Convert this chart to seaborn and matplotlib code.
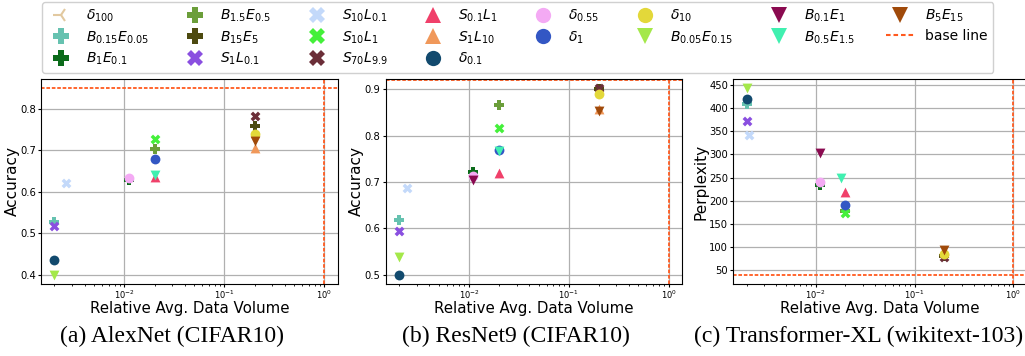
import numpy as np
import pandas as pd
import matplotlib
matplotlib.use("Agg")
import matplotlib.pyplot as plt
from matplotlib.lines import Line2D
from matplotlib.ticker import MultipleLocator
import seaborn as sns

nan = np.nan

methods = [r'$\delta_{100}$', r'$B_{0.15}E_{0.05}$', r'$B_{1}E_{0.1}$',
           r'$B_{1.5}E_{0.5}$', r'$B_{15}E_{5}$', r'$S_{1}L_{0.1}$',
           r'$S_{10}L_{0.1}$', r'$S_{10}L_{1}$', r'$S_{70}L_{9.9}$',
           r'$S_{0.1}L_{1}$', r'$S_{1}L_{10}$', r'$\delta_{0.1}$',
           r'$\delta_{0.55}$', r'$\delta_{1}$', r'$\delta_{10}$',
           r'$B_{0.05}E_{0.15}$', r'$B_{0.1}E_{1}$', r'$B_{0.5}E_{1.5}$',
           r'$B_{5}E_{15}$']
colors = ['#e2c9a0', '#66c2b0', '#0b6b1a', '#6b9e3a', '#4d4a10', '#8a4fe0',
          '#c3d9fa', '#44f03a', '#6b2e38', '#f0406a', '#f0985a', '#124a6e',
          '#f4aaf4', '#3357c4', '#e3d83a', '#a4e84a', '#8a0a50', '#40f0b0',
          '#a04a0a']
markers = ['3', 'P', 'P', 'P', 'P', 'X', 'X', 'X', 'X', '^', '^', 'o',
           'o', 'o', 'o', 'v', 'v', 'v', 'v']

# (a) AlexNet (CIFAR10)
alex_x = [nan, 0.002, 0.011, 0.02, 0.2, 0.002, 0.0026, 0.02, 0.2, 0.02, 0.2,
          0.002, 0.011, 0.02, 0.2, 0.002, nan, 0.02, 0.2]
alex_y = [nan, 0.527, 0.628, 0.704, 0.760, 0.517, 0.621, 0.728, 0.784, 0.637,
          0.705, 0.436, 0.633, 0.680, 0.740, 0.400, nan, 0.641, 0.722]
alex_base = 0.85

# (b) ResNet9 (CIFAR10)
res_x = [nan, 0.002, 0.011, 0.02, 0.2, 0.002, 0.0024, 0.02, 0.2, 0.02, 0.2,
         0.002, 0.011, 0.02, 0.2, 0.002, 0.011, 0.02, 0.2]
res_y = [nan, 0.619, 0.722, 0.865, 0.900, 0.594, 0.687, 0.817, 0.902, 0.719,
         0.858, 0.500, 0.713, 0.768, 0.890, 0.538, 0.704, 0.766, 0.853]
res_base = 0.92

# (c) Transformer-XL (wikitext-103)
txl_x = [nan, 0.002, 0.011, 0.02, 0.2, 0.002, 0.0021, 0.02, 0.2, 0.02, 0.2,
         0.002, 0.011, 0.02, 0.2, 0.002, 0.011, 0.018, 0.2]
txl_y = [nan, 409, 233, 178, 80, 372, 341, 174, 78, 219, 88, 420, 240, 191,
         84, 443, 303, 250, 93]
txl_base = 40

panels = [
    (alex_x, alex_y, alex_base, 'Accuracy', 0.1, '(a) AlexNet (CIFAR10)'),
    (res_x, res_y, res_base, 'Accuracy', 0.1, '(b) ResNet9 (CIFAR10)'),
    (txl_x, txl_y, txl_base, 'Perplexity', 50, '(c) Transformer-XL (wikitext-103)'),
]

W, H = 1025, 356
fig = plt.figure(figsize=(W / 100, H / 100), dpi=100)
boxes = [(41, 338), (385.7, 682), (733.3, 1026.7)]
top, bot = 79, 284
base_color = '#ff5a1f'

for i, ((px, py, base, ylab, step, cap), (l, r)) in enumerate(zip(panels, boxes)):
    ax = fig.add_axes([l / W, 1 - bot / H, (r - l) / W, (bot - top) / H])
    ax.set_xscale('log')
    for m, c, mk, xv, yv in zip(methods, colors, markers, px, py):
        if np.isnan(xv):
            continue
        df = pd.DataFrame({'x': [xv], 'y': [yv]})
        sns.scatterplot(data=df, x='x', y='y', ax=ax, color=c, marker=mk,
                        s=50, linewidth=0, legend=False, zorder=3)
    ax.axhline(base, color=base_color, ls=(0, (2, 1)), lw=1.3, zorder=2)
    ax.axvline(1.0, color=base_color, ls=(0, (2, 1)), lw=1.3, zorder=2)
    ax.grid(True, which='major', color='#b0b0b0', lw=0.9)
    ax.set_axisbelow(True)
    ax.yaxis.set_major_locator(MultipleLocator(step))
    ax.tick_params(axis='both', which='major', length=2.5, pad=1.2)
    ax.tick_params(axis='x', which='major', pad=0.5)
    ax.tick_params(axis='both', which='minor', length=1.5)
    ax.tick_params(axis='y', labelsize=7.2)
    ax.tick_params(axis='x', labelsize=6)
    ax.set_xlabel('Relative Avg. Data Volume', fontsize=10.8, labelpad=0)
    ax.set_ylabel(ylab, fontsize=11, labelpad=0.3)
    if i < 2:
        fig.text(((l + r) / 2 - 17.5) / W, 1 - 336 / H, cap, ha='center',
                 va='center', fontsize=17, family='Liberation Serif')
    else:
        fig.text(1023 / W, 1 - 336 / H, cap, ha='right',
                 va='center', fontsize=17, family='Liberation Serif')

handles = [Line2D([], [], ls='none', marker=mk, color=c, markersize=11,
                  markeredgewidth=1.5 if mk == '3' else 0)
           for c, mk in zip(colors, markers)]
handles.append(Line2D([], [], color=base_color, ls=(0, (2.2, 1.4)), lw=1.5))
labels = methods + ['base line']
fig.legend(handles, labels, ncol=8, loc='upper left',
           bbox_to_anchor=(42 / W, 1 - 2 / H), borderaxespad=0, fontsize=10,
           columnspacing=2.28, handletextpad=0.8, labelspacing=0.38,
           borderpad=0.4, frameon=True, framealpha=1, edgecolor='#d0d0d0')

fig.savefig('out.png', dpi=100)
